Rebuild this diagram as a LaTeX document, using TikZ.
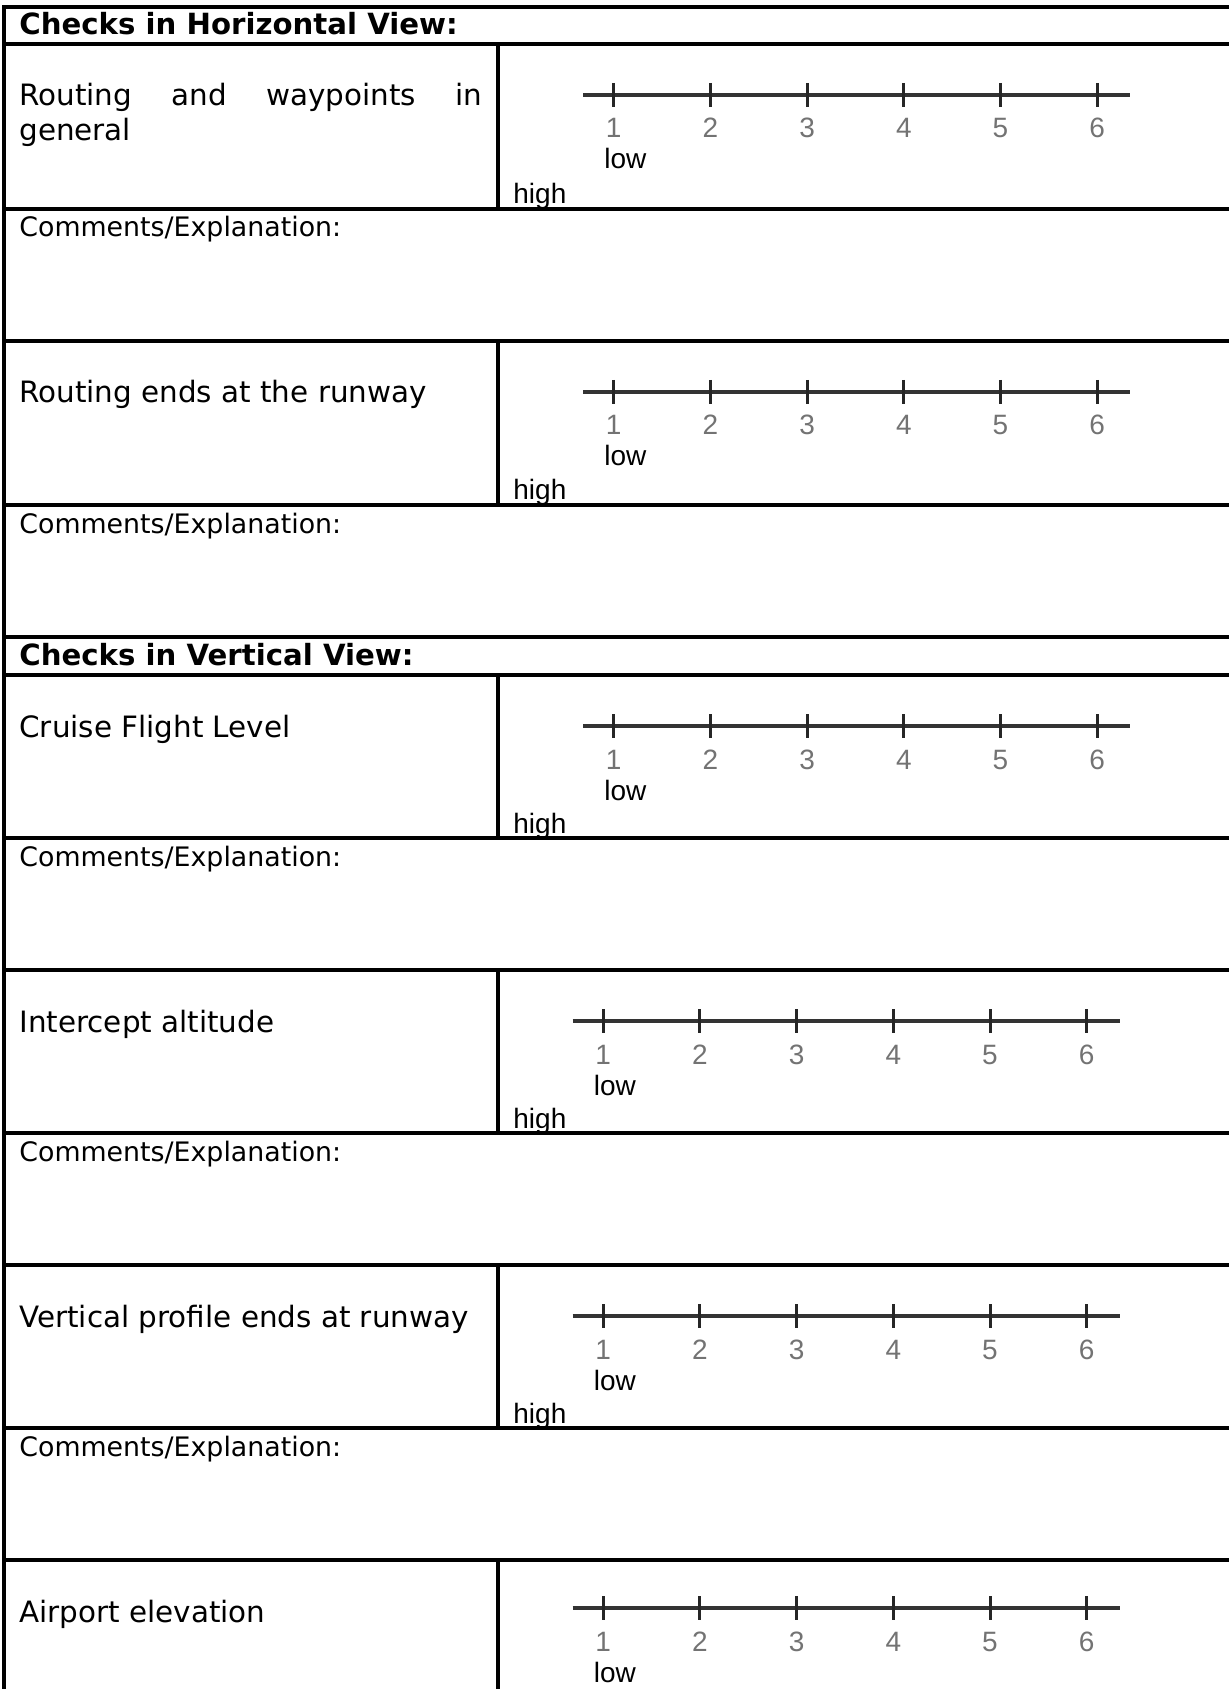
\documentclass[tikz,border=0pt]{standalone}
\usepackage{fontspec}
\setmainfont{DejaVu Sans}
\newfontfamily\arialfont{Liberation Sans}
\usetikzlibrary{positioning}

% rating scale 1..6 with its low mark
% #1 name, #2 shift of the scale, #3 top of row
\newcommand{\ratingscale}[3]{%
  \coordinate (#1-left) at ({583+#2},{#3+51});
  \coordinate (#1-right) at ({1130+#2},{#3+51});
  \draw[axis] (#1-left) -- (#1-right);
  \foreach \k in {1,...,6} {
    \coordinate (#1-t\k) at ({613.7+96.7*(\k-1)+#2},{#3+51});
    \draw[scaletick] ([yshift=6pt]#1-t\k) -- ([yshift=-6pt]#1-t\k);
    \node[digit] (#1-n\k) at ({613.7+96.7*(\k-1)+#2},{#3+94}) {\k};
  }
  \node[lowhigh] (#1-low) at ({604+#2},{#3+125}) {low};
}

\begin{document}
\begin{tikzpicture}[
    x=0.5pt, y=-0.5pt,
    rule/.style={line width=1.6pt, black, line cap=rect},
    head/.style={anchor=base west, inner sep=0pt, font=\fontsize{14.6}{17.5}\selectfont\bfseries},
    item/.style={anchor=base west, inner sep=0pt, font=\fontsize{14.7}{17.5}\selectfont},
    note/.style={anchor=base west, inner sep=0pt, font=\fontsize{13.4}{16}\selectfont},
    axis/.style={line width=2.1pt, black!80},
    scaletick/.style={line width=1.5pt, black!85},
    digit/.style={anchor=base, inner sep=0pt, text=black!55, font=\arialfont\fontsize{14}{16}\selectfont},
    lowhigh/.style={anchor=base west, inner sep=0pt, font=\arialfont\fontsize{14}{16}\selectfont}
]
\useasboundingbox (0,0) rectangle (1229,1689);

% table rules
\foreach \y in {7,44,209,341,505,637,675,838,970,1133,1265,1428,1560}
  \draw[rule] (4,\y) -- (1240,\y);
\draw[rule] (4,7) -- (4,1700);
\foreach \t/\b in {44/209,341/505,675/838,970/1133,1265/1428,1560/1700}
  \draw[rule] (498,\t) -- (498,\b);

% horizontal view
\node[head] (hview) at (19,35) {Checks in Horizontal View:};
\node[item] (route) at (19,106) {\makebox[231.5pt][s]{Routing and waypoints in}};
\node[item] (route2) at (19,141) {general};
\ratingscale{s1}{0}{44}
\node[lowhigh] (s1-high) at (513,204) {high};
\node[note] (com1) at (19,237) {Comments/Explanation:};

\node[item] (runway) at (19,403) {Routing ends at the runway};
\ratingscale{s2}{0}{341}
\node[lowhigh] (s2-high) at (513,500) {high};
\node[note] (com2) at (19,533) {Comments/Explanation:};

% vertical view
\node[head] (vview) at (19,665) {Checks in Vertical View:};
\node[item] (cruise) at (19,737) {Cruise Flight Level};
\ratingscale{s3}{0}{675}
\node[lowhigh] (s3-high) at (513,833) {high};
\node[note] (com3) at (19,866) {Comments/Explanation:};

\node[item] (intercept) at (19,1032) {Intercept altitude};
\ratingscale{s4}{-10.5}{970}
\node[lowhigh] (s4-high) at (513,1128) {high};
\node[note] (com4) at (19,1161) {Comments/Explanation:};

\node[item] (profile) at (19,1327) {Vertical profile ends at runway};
\ratingscale{s5}{-10.5}{1265}
\node[lowhigh] (s5-high) at (513,1423) {high};
\node[note] (com5) at (19,1456) {Comments/Explanation:};

\node[item] (elevation) at (19,1622) {Airport elevation};
\ratingscale{s6}{-10.5}{1557}
\end{tikzpicture}
\end{document}
